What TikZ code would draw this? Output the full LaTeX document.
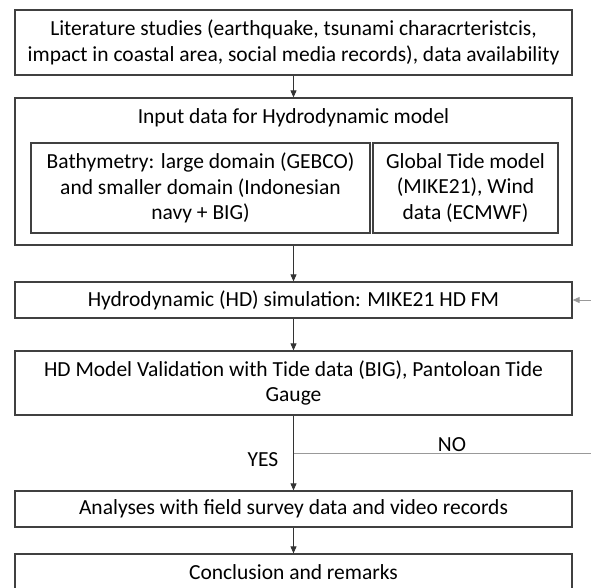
\documentclass[tikz,border=0pt]{standalone}
\usepackage{fontspec}
\setmainfont{Carlito}
\usetikzlibrary{arrows.meta}
\begin{document}
\begin{tikzpicture}[x=1pt,y=-1pt,
  every node/.style={font=\fontsize{21.5}{25.5}\selectfont},
  box/.style={draw=black!75,line width=1.3pt,inner sep=0pt,align=center},
  arr/.style={-{Triangle[length=7pt,width=6pt]},line width=0.9pt,black!80},
  noline/.style={line width=1pt,black!40}]
\useasboundingbox (0,0) rectangle (591,587);
\node[box,minimum width=557pt,minimum height=65pt] (b1) at (293.5,42.5)
  {Literature studies (earthquake, tsunami characrteristcis,\\impact in coastal area, social media records), data availability};
\node[box,minimum width=557pt,minimum height=147pt] (b2) at (293.5,171.5) {};
\node (b2t) at (293.5,118) {Input data for Hydrodynamic model};
\node[box,minimum width=339pt,minimum height=90pt] (b2a) at (200.5,188)
  {Bathymetry: large domain (GEBCO)\\and smaller domain (Indonesian\\navy + BIG)};
\node[box,minimum width=185pt,minimum height=90pt] (b2b) at (465.5,188)
  {Global Tide model\\(MIKE21), Wind\\data (ECMWF)};
\node[box,minimum width=557pt,minimum height=36pt] (b3) at (293.5,300)
  {Hydrodynamic (HD) simulation: MIKE21 HD FM};
\node[box,minimum width=557pt,minimum height=64pt] (b4) at (293.5,383)
  {HD Model Validation with Tide data (BIG), Pantoloan Tide\\Gauge};
\node[box,minimum width=557pt,minimum height=36pt] (b5) at (293.5,509)
  {Analyses with field survey data and video records};
\node[box,minimum width=557pt,minimum height=37pt] (b6) at (293.5,572.5)
  {Conclusion and remarks};
\node (yes) at (263,460) {YES};
\node (no) at (452,445) {NO};
\coordinate (fork) at (293.5,453);
\coordinate (far1) at (600,453);
\coordinate (far2) at (600,300);
\draw[arr] (b1) -- (b2);
\draw[arr] (b2) -- (b3);
\draw[arr] (b3) -- (b4);
\draw[arr] (b4) -- (b5);
\draw[arr] (b5) -- (b6);
\draw[noline] (fork) -- (far1) -- (far2);
\draw[arr,black!40] (far2) -- (b3.east);
\end{tikzpicture}
\end{document}
